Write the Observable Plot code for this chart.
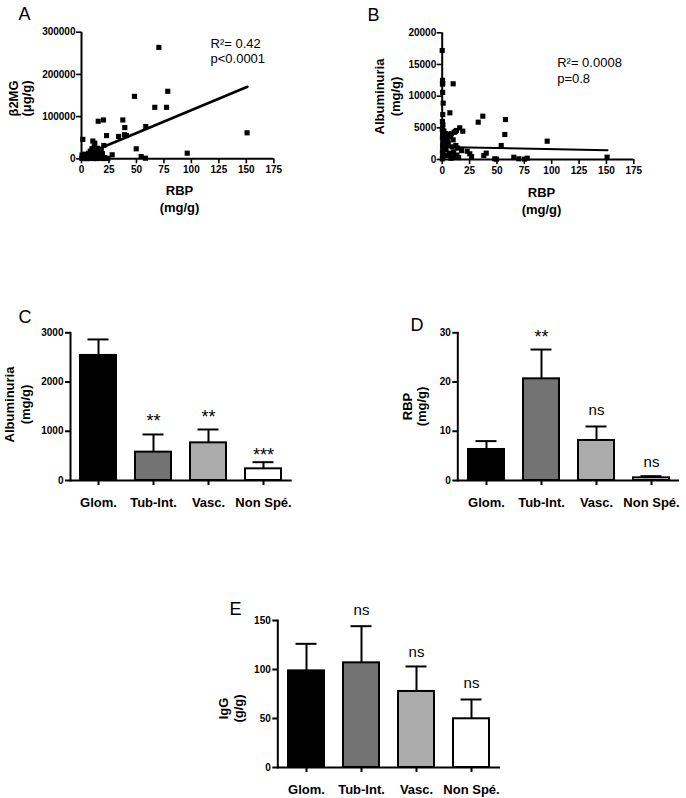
<!DOCTYPE html>
<html><head><meta charset="utf-8">
<script src="https://cdn.jsdelivr.net/npm/d3@7"></script>
<script src="https://cdn.jsdelivr.net/npm/@observablehq/plot@0.6"></script>
<style>
body{margin:0;background:#fff;}
#root{position:relative;width:686px;height:798px;overflow:hidden;}
#root svg{position:absolute;}
</style></head><body><div id="root"></div>
<script>
// ---------- Panel A: RBP vs β2MG ----------
const aRBP = [0.3,0.5,0.8,1.5,2,2.5,3,3.5,4,4.5,5,5.5,6,6.5,7,7.5,8,8.5,9,9.5,10,10.5,11,11.5,12,12.5,13,13.5,14,14.5,15,15.5,16,17,18,19,20,21,22,24,
  70.4,78.5,48.2,66.7,77.4,15.2,20,37.6,39.4,58.5,33.7,39.1,41,22.8,1.2,10.3,12.1,20.3,49.8,27.9,96.2,54.3,58.2,150.7,18];
const aB2MG = [1000,9000,3000,500,6000,2000,11000,800,4000,1500,7000,300,2500,13000,1000,5000,18000,2000,9000,24000,3500,15000,600,28000,6000,20000,2000,11000,500,25000,4000,14000,1200,8000,2500,12000,500,3000,1500,800,
  264000,160000,148000,122000,122000,89000,92000,92000,74000,76500,53000,57000,55000,55000,46000,42000,37000,31500,23700,9500,13300,5400,1400,61600,20000];
const aFitX = [0, 151];
const aSlope = 1087, aIntercept = 6500;
const aXTicks = [0,25,50,75,100,125,150,175];
const aYTicks = [0,100000,200000,300000];
const aStats = ["R²= 0.42", "p<0.0001"];

// ---------- Panel B: RBP vs Albuminuria ----------
const bRBP = [0,0.3,0.5,0.2,0.4,0.9,0.5,0.2,0.6,0.3,0.1,0.8,0.4,0.2,1,0.5,0.3,0.7,0.2,0.6,0.4,0.1,
  1.5,2,2.5,3,3.5,4,4.5,5,5.5,6,6.5,7,7.5,8,8.5,9,9.5,10,10.5,11,11.5,12,12.5,13,13.5,14,15,16,17.6,18.8,10,7,
  22.8,25.2,26.8,32.9,37.1,38,40.2,48,49.6,53.9,57.2,57.8,65.4,70,75.2,77.6,95.9,150.6];
const bAlb = [17200,12500,12000,11900,10600,8900,7100,6000,5500,5100,4700,4300,3900,3400,3000,2600,2100,1700,1200,800,400,100,
  4500,3800,2200,4100,1500,3300,600,2800,2480,4000,1000,900,3600,200,4060,2000,300,3100,1200,4300,500,4420,2200,4580,700,1800,300,5000,1400,4470,11950,7370,
  1310,900,470,5890,6840,630,1000,110,50,2210,3950,6310,360,110,60,210,2890,370];
const bFitX = [0, 151];
const bSlope = -3.4, bIntercept = 1990;
const bXTicks = [0,25,50,75,100,125,150,175];
const bYTicks = [0,5000,10000,15000,20000];
const bStats = ["R²= 0.0008", "p=0.8"];

// ---------- Bar panels ----------
const groups = ["Glom.", "Tub-Int.", "Vasc.", "Non Spé."];
const groupFill = ["#000000", "#737373", "#ababab", "#ffffff"];

const cMean = [2540, 576, 765, 237];
const cSem  = [325, 359, 271, 135];
const cSig  = ["", "**", "**", "***"];
const cSigY = [null, 1286, 1367, 609];
const cYTicks = [0,1000,2000,3000];

const dMean = [6.3, 20.65, 8.13, 0.54];
const dSem  = [1.7, 5.95, 2.84, 0.34];
const dSig  = ["", "**", "ns", "ns"];
const dSigY = [null, 30.1, 14.08, 3.51];
const dYTicks = [0,10,20,30];

const eMean = [98.6, 106.8, 77.6, 49.7];
const eSem  = [27.6, 37.4, 25.5, 19.7];
const eSig  = ["", "ns", "ns", "ns"];
const eSigY = [null, 159, 117, 84.7];
const eYTicks = [0,50,100,150];

// ---------- helpers ----------
const root = document.getElementById("root");
const FONT = '"Liberation Sans", Arial, Helvetica, sans-serif';
function style() {
  return {fontFamily: FONT, fontSize: "10px", fontWeight: "bold", color: "#000", background: "transparent", overflow: "visible"};
}
function place(b, svg) {
  svg.style.left = b.left + "px";
  svg.style.top = b.top + "px";
  root.appendChild(svg);
}
function txt(b, str, px, py, o = {}) {
  return Plot.text([str], {
    text: d => d, frameAnchor: "top-left",
    dx: px - b.left - b.ml, dy: py - b.top - b.mt,
    fill: "black", textAnchor: "start", lineAnchor: "bottom", ...o
  });
}
function plotOpts(b) {
  return {width: b.width, height: b.height, marginLeft: b.ml, marginRight: b.mr, marginTop: b.mt, marginBottom: b.mb, style: style()};
}
const letterStyle = {fontSize: 18, fontWeight: "normal"};
const titleStyle = {fontSize: 13, fontWeight: "bold", textAnchor: "middle"};
const statStyle = {fontSize: 13, fontWeight: "normal"};

function scatter(b, xs, ys, fitX, slope, intercept, xTicks, yTicks, yMax, lineW, texts) {
  const pts = xs.map((x, i) => ({rbp: x, val: ys[i]}));
  const fit = fitX.map(x => ({rbp: x, val: intercept + slope * x}));
  return Plot.plot({
    ...plotOpts(b),
    x: {domain: [0, 175]},
    y: {domain: [0, yMax]},
    marks: [
      Plot.axisX({ticks: xTicks, tickSize: 5, tickPadding: 2, fontSize: 10, fontWeight: "bold", strokeWidth: 1.6, label: null, tickFormat: d => String(d)}),
      Plot.axisY({ticks: yTicks, tickSize: 5, tickPadding: 1, fontSize: 10, fontWeight: "bold", strokeWidth: 1.6, label: null, tickFormat: d => String(d)}),
      Plot.ruleX([0], {strokeWidth: 2}),
      Plot.ruleY([0], {strokeWidth: 2}),
      Plot.dot(pts, {x: "rbp", y: "val", symbol: "square", r: 2.9, fill: "black"}),
      Plot.line(fit, {x: "rbp", y: "val", stroke: "black", strokeWidth: lineW}),
      ...texts
    ]
  });
}

function bars(b, mean, sem, sig, sigY, yMax, yTicks, texts) {
  const data = groups.map((g, i) => ({g, mean: mean[i], top: mean[i] + sem[i], fill: groupFill[i], sig: sig[i], sigY: sigY[i]}));
  const sigData = data.filter(d => d.sig);
  return Plot.plot({
    ...plotOpts(b),
    x: {type: "band", domain: groups, paddingInner: 0.345, paddingOuter: 0.178},
    y: {domain: [0, yMax]},
    color: {type: "identity"},
    marks: [
      Plot.axisY({ticks: yTicks, tickSize: 5, tickPadding: 2, fontSize: 10, fontWeight: "bold", strokeWidth: 2, label: null, tickFormat: d => String(d)}),
      Plot.axisX({tickSize: 5, tickPadding: 12, fontSize: 13, fontWeight: "bold", strokeWidth: 2, label: null}),
      Plot.barY(data, {x: "g", y: "mean", fill: "fill", stroke: "black", strokeWidth: 2}),
      Plot.ruleX(data, {x: "g", y1: "mean", y2: "top", stroke: "black", strokeWidth: 2}),
      Plot.tickY(data, {x: "g", y: "top", stroke: "black", strokeWidth: 2, insetLeft: 7.5, insetRight: 7.5}),
      Plot.frame({anchor: "left", strokeWidth: 2}),
      Plot.ruleY([0], {strokeWidth: 2}),
      Plot.text(sigData.filter(d => d.sig.startsWith("*")), {x: "g", y: "sigY", text: "sig", fontSize: 18, fontWeight: "normal", lineAnchor: "middle", dy: 4.5, fill: "black"}),
      Plot.text(sigData.filter(d => d.sig === "ns"), {x: "g", y: "sigY", text: "sig", fontSize: 15, fontWeight: "normal", lineAnchor: "middle", dy: -1, fill: "black"}),
      ...texts
    ]
  });
}

// ---------- Panel A ----------
const boxA = {left: 0, top: 0, width: 300, height: 220, ml: 81, mr: 26.7, mt: 31.7, mb: 61.7};
place(boxA, scatter(boxA, aRBP, aB2MG, aFitX, aSlope, aIntercept, aXTicks, aYTicks, 300000, 2.6, [
  txt(boxA, "A", 18, 19.3, letterStyle),
  txt(boxA, aStats[0], 210, 47.5, statStyle),
  txt(boxA, aStats[1], 210, 62.8, statStyle),
  txt(boxA, "RBP", 179, 194.7, titleStyle),
  txt(boxA, "(mg/g)", 179, 211.5, titleStyle),
  txt(boxA, "β2MG", 17.5, 98, {...titleStyle, rotate: -90}),
  txt(boxA, "(μg/g)", 30.6, 98, {...titleStyle, rotate: -90})
]));

// ---------- Panel B ----------
const boxB = {left: 343, top: 0, width: 343, height: 220, ml: 98.7, mr: 52.7, mt: 32.3, mb: 61};
place(boxB, scatter(boxB, bRBP, bAlb, bFitX, bSlope, bIntercept, bXTicks, bYTicks, 20000, 2, [
  txt(boxB, "B", 367, 20, letterStyle),
  txt(boxB, bStats[0], 556.7, 66.5, statStyle),
  txt(boxB, bStats[1], 556.7, 82, statStyle),
  txt(boxB, "RBP", 541, 196.7, titleStyle),
  txt(boxB, "(mg/g)", 541, 213.5, titleStyle),
  txt(boxB, "Albuminuria", 383.3, 96, {...titleStyle, rotate: -90}),
  txt(boxB, "(mg/g)", 399, 96, {...titleStyle, rotate: -90})
]));

// ---------- Panel C ----------
const boxC = {left: 0, top: 290, width: 300, height: 225, ml: 70, mr: 8.3, mt: 42.3, mb: 35};
place(boxC, bars(boxC, cMean, cSem, cSig, cSigY, 3000, cYTicks, [
  txt(boxC, "C", 18, 322, letterStyle),
  txt(boxC, "Albuminuria", 13.5, 404, {...titleStyle, rotate: -90}),
  txt(boxC, "(mg/g)", 29, 404, {...titleStyle, rotate: -90})
]));

// ---------- Panel D ----------
const boxD = {left: 343, top: 290, width: 343, height: 225, ml: 114.3, mr: 7, mt: 42.3, mb: 35};
place(boxD, bars(boxD, dMean, dSem, dSig, dSigY, 30, dYTicks, [
  txt(boxD, "D", 410, 330, letterStyle),
  txt(boxD, "RBP", 411, 406, {...titleStyle, rotate: -90}),
  txt(boxD, "(mg/g)", 425.6, 406, {...titleStyle, rotate: -90})
]));

// ---------- Panel E ----------
const boxE = {left: 190, top: 590, width: 330, height: 208, ml: 87.3, mr: 20, mt: 30, mb: 31};
place(boxE, bars(boxE, eMean, eSem, eSig, eSigY, 150, eYTicks, [
  txt(boxE, "E", 229, 614, letterStyle),
  txt(boxE, "IgG", 227, 708, {...titleStyle, rotate: -90}),
  txt(boxE, "(g/g)", 242.5, 708, {...titleStyle, rotate: -90})
]));
</script>
</body></html>
